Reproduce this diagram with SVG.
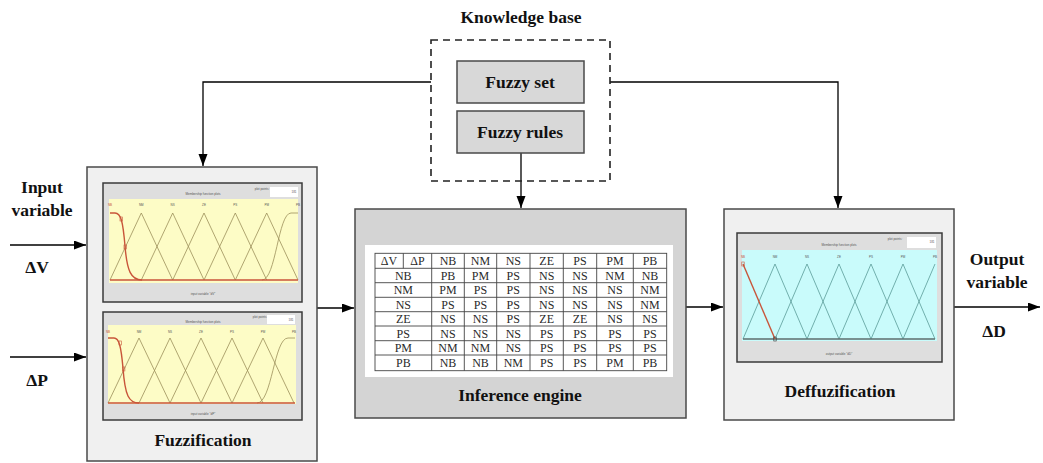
<svg xmlns="http://www.w3.org/2000/svg" width="1043" height="463" viewBox="0 0 1043 463">
  <defs>
    <marker id="arrow" markerUnits="userSpaceOnUse" markerWidth="13" markerHeight="10" refX="12" refY="4.5" orient="auto">
      <path d="M0,0 L12,4.5 L0,9 z" fill="#000"/>
    </marker>
    <style>
      .lbl { font-family: "Liberation Serif", "Times New Roman", serif; font-weight: bold; font-size: 17.5px; fill: #111; text-anchor: middle; }
      .cell { font-family: "Liberation Serif", "Times New Roman", serif; font-size: 12px; fill: #2a2a2a; text-anchor: middle; }
      .block { fill: #f0f0f0; stroke: #4a4a4a; stroke-width: 1.5; }
      .grayblock { fill: #d4d4d4; stroke: #4a4a4a; stroke-width: 1.5; }
      .kbitem { fill: #d8d8d8; stroke: #4a4a4a; stroke-width: 1.5; }
      .kb { fill: none; stroke: #222; stroke-width: 1.6; stroke-dasharray: 7 5; }
      .conn { fill: none; stroke: #000; stroke-width: 1.3; }
      .win { fill: #dedede; stroke: #3a3a3a; stroke-width: 1.5; }
      .tiny { font-family: "Liberation Sans", Arial, sans-serif; font-size: 3px; fill: #555; text-anchor: middle; }
      .mfy { fill: none; stroke: #9c8f5a; stroke-width: 0.8; }
      .mfc { fill: none; stroke: #5a9c98; stroke-width: 0.8; }
      .sel { fill: none; stroke: #c8553a; stroke-width: 1.4; }
      .tbl { fill: none; stroke: #444; stroke-width: 0.9; }
    </style>
  </defs>

  <!-- Connectors -->
  <g id="connectors">
    <path class="conn" d="M431,82 H203 V166" marker-end="url(#arrow)"/>
    <path class="conn" d="M610,82 H838 V208" marker-end="url(#arrow)"/>
    <path class="conn" d="M521,153 V208" marker-end="url(#arrow)"/>
    <path class="conn" d="M10,245 H86" marker-end="url(#arrow)"/>
    <path class="conn" d="M10,357 H86" marker-end="url(#arrow)"/>
    <path class="conn" d="M317,308 H354" marker-end="url(#arrow)"/>
    <path class="conn" d="M686,307 H723" marker-end="url(#arrow)"/>
    <path class="conn" d="M954,307 H1040" marker-end="url(#arrow)"/>
  </g>

  <!-- Input / output labels -->
  <g id="input-labels">
    <text class="lbl" x="42" y="193">Input</text>
    <text class="lbl" x="42" y="216">variable</text>
    <text class="lbl" x="37" y="273">ΔV</text>
    <text class="lbl" x="37" y="386">ΔP</text>
  </g>
  <g id="output-labels">
    <text class="lbl" x="997" y="265">Output</text>
    <text class="lbl" x="997" y="288">variable</text>
    <text class="lbl" x="994" y="337">ΔD</text>
  </g>

  <!-- Knowledge base -->
  <g id="knowledge-base">
    <text class="lbl" x="521" y="23">Knowledge base</text>
    <rect class="kb" x="431" y="40" width="179" height="141"/>
  </g>
  <g id="fuzzy-set">
    <rect class="kbitem" x="457" y="61" width="127" height="42"/>
    <text class="lbl" x="520" y="88">Fuzzy set</text>
  </g>
  <g id="fuzzy-rules">
    <rect class="kbitem" x="457" y="111" width="127" height="42"/>
    <text class="lbl" x="520" y="138">Fuzzy rules</text>
  </g>

  <!-- Fuzzification block with two membership-function plots -->
  <g id="fuzzification">
    <rect class="block" x="87" y="167" width="230" height="294"/>
    <text class="lbl" x="203" y="446">Fuzzification</text>

    <!-- plot for dV -->
    <rect class="win" x="103" y="183" width="199" height="119"/>
    <text class="tiny" x="203" y="195">Membership function plots</text>
    <text class="tiny" x="262" y="190">plot points:</text>
    <rect x="270" y="187" width="28" height="10" fill="#fff"/>
    <text class="tiny" x="294" y="193">181</text>
    <rect x="109" y="199" width="189" height="84" fill="#fdfcc6"/>
    <g class="tiny">
      <text x="110" y="206" fill="#c8553a">NB</text><text x="141.3" y="206">NM</text><text x="172.7" y="206">NS</text><text x="204" y="206">ZE</text><text x="235.3" y="206">PS</text><text x="266.7" y="206">PM</text><text x="298" y="206">PB</text>
    </g>
    <path class="mfy" d="M110,280 L141.3,213 L172.7,280 M141.3,280 L172.7,213 L204,280 M172.7,280 L204,213 L235.3,280 M204,280 L235.3,213 L266.7,280 M235.3,280 L266.7,213 L298,280"/>
    <path class="mfy" d="M262,280 C276,280 278,213 291,213 H298" stroke-width="1.2"/>
    <path class="sel" d="M110,280 H298"/>
    <path class="sel" d="M110,213 H115 C121,213 123,222 125,246 C127,271 131,280 142,280"/>
    <rect x="120" y="217" width="2.4" height="4" fill="none" stroke="#c8553a" stroke-width="0.6"/>
    <rect x="124" y="245" width="2.4" height="4" fill="none" stroke="#c8553a" stroke-width="0.6"/>
    <text class="tiny" x="203" y="295">input variable "dV"</text>

    <!-- plot for dP -->
    <rect class="win" x="103" y="312" width="199" height="108"/>
    <text class="tiny" x="203" y="323">Membership function plots</text>
    <text class="tiny" x="260" y="318">plot points:</text>
    <rect x="267" y="315" width="28" height="9" fill="#fff"/>
    <text class="tiny" x="291" y="321">181</text>
    <rect x="108" y="325" width="188" height="79" fill="#fdfcc6"/>
    <g class="tiny">
      <text x="108" y="333" fill="#c8553a">NB</text><text x="139" y="333">NM</text><text x="170" y="333">NS</text><text x="201" y="333">ZE</text><text x="232" y="333">PS</text><text x="263" y="333">PM</text><text x="294" y="333">PB</text>
    </g>
    <path class="mfy" d="M108,403 L139,338 L170,403 M139,403 L170,338 L201,403 M170,403 L201,338 L232,403 M201,403 L232,338 L263,403 M232,403 L263,338 L294,403"/>
    <path class="mfy" d="M257,403 C272,403 274,338 288,338 H295" stroke-width="1.2"/>
    <path class="sel" d="M108,403 H295"/>
    <path class="sel" d="M108,338 H114 C119,338 121,346 123,368 C125,396 129,403 139,403"/>
    <rect x="119" y="341" width="2.4" height="4" fill="none" stroke="#c8553a" stroke-width="0.6"/>
    <rect x="122.5" y="367" width="2.4" height="4" fill="none" stroke="#c8553a" stroke-width="0.6"/>
    <text class="tiny" x="203" y="415">input variable "dP"</text>
  </g>

  <!-- Inference engine with rule table -->
  <g id="inference-engine">
    <rect class="grayblock" x="355" y="209" width="331" height="209"/>
    <rect x="365" y="245" width="308" height="132" fill="#fff"/>
    <text class="lbl" x="520" y="401">Inference engine</text>
    <g class="tbl">
      <rect x="375" y="253.3" width="291.7" height="117.4"/>
      <path d="M375,268.3 H666.7 M375,282.7 H666.7 M375,297.3 H666.7 M375,311.7 H666.7 M375,326 H666.7 M375,340.7 H666.7 M375,355 H666.7"/>
      <path d="M403.3,253.3 V268.3 M431.7,253.3 V370.7 M464.3,253.3 V370.7 M496.7,253.3 V370.7 M530,253.3 V370.7 M563.3,253.3 V370.7 M596.7,253.3 V370.7 M633.3,253.3 V370.7"/>
    </g>
    <g class="cell">
      <text x="389" y="265">ΔV</text><text x="417.5" y="265">ΔP</text>
      <text x="448" y="265">NB</text><text x="480.5" y="265">NM</text><text x="513.3" y="265">NS</text><text x="546.7" y="265">ZE</text><text x="580" y="265">PS</text><text x="615" y="265">PM</text><text x="650" y="265">PB</text>

      <text x="403.3" y="279.5">NB</text><text x="448" y="279.5">PB</text><text x="480.5" y="279.5">PM</text><text x="513.3" y="279.5">PS</text><text x="546.7" y="279.5">NS</text><text x="580" y="279.5">NS</text><text x="615" y="279.5">NM</text><text x="650" y="279.5">NB</text>

      <text x="403.3" y="294">NM</text><text x="448" y="294">PM</text><text x="480.5" y="294">PS</text><text x="513.3" y="294">PS</text><text x="546.7" y="294">NS</text><text x="580" y="294">NS</text><text x="615" y="294">NS</text><text x="650" y="294">NM</text>

      <text x="403.3" y="308.5">NS</text><text x="448" y="308.5">PS</text><text x="480.5" y="308.5">PS</text><text x="513.3" y="308.5">PS</text><text x="546.7" y="308.5">NS</text><text x="580" y="308.5">NS</text><text x="615" y="308.5">NS</text><text x="650" y="308.5">NM</text>

      <text x="403.3" y="323">ZE</text><text x="448" y="323">NS</text><text x="480.5" y="323">NS</text><text x="513.3" y="323">PS</text><text x="546.7" y="323">ZE</text><text x="580" y="323">ZE</text><text x="615" y="323">NS</text><text x="650" y="323">NS</text>

      <text x="403.3" y="337.5">PS</text><text x="448" y="337.5">NS</text><text x="480.5" y="337.5">NS</text><text x="513.3" y="337.5">NS</text><text x="546.7" y="337.5">PS</text><text x="580" y="337.5">PS</text><text x="615" y="337.5">PS</text><text x="650" y="337.5">PS</text>

      <text x="403.3" y="352">PM</text><text x="448" y="352">NM</text><text x="480.5" y="352">NM</text><text x="513.3" y="352">NS</text><text x="546.7" y="352">PS</text><text x="580" y="352">PS</text><text x="615" y="352">PS</text><text x="650" y="352">PS</text>

      <text x="403.3" y="367">PB</text><text x="448" y="367">NB</text><text x="480.5" y="367">NB</text><text x="513.3" y="367">NM</text><text x="546.7" y="367">PS</text><text x="580" y="367">PS</text><text x="615" y="367">PM</text><text x="650" y="367">PB</text>
    </g>
  </g>

  <!-- Defuzzification block with output membership-function plot -->
  <g id="defuzzification">
    <rect class="block" x="724" y="209" width="230" height="211"/>
    <text class="lbl" x="840" y="397">Deffuzification</text>
    <rect class="win" x="737" y="233" width="205" height="129"/>
    <text class="tiny" x="839" y="246">Membership function plots</text>
    <text class="tiny" x="895" y="240">plot points:</text>
    <rect x="907" y="237" width="29" height="11" fill="#fff"/>
    <text class="tiny" x="932" y="243">181</text>
    <rect x="742" y="250" width="195" height="91" fill="#c9fbfb"/>
    <g class="tiny">
      <text x="743" y="258" fill="#c8553a">NB</text><text x="775" y="258">NM</text><text x="807" y="258">NS</text><text x="839" y="258">ZE</text><text x="871" y="258">PS</text><text x="903" y="258">PM</text><text x="935" y="258">PB</text>
    </g>
    <path class="mfc" d="M743,339 L775,264 L807,339 M775,339 L807,264 L839,339 M807,339 L839,264 L871,339 M839,339 L871,264 L903,339 M871,339 L903,264 L935,339 M903,339 L935,264"/>
    <path d="M743,339 H935" fill="none" stroke="#5c6e6e" stroke-width="1.4"/>
    <path class="sel" d="M743,264 L775,339" stroke-width="1"/>
    <rect x="741.8" y="262" width="2.4" height="4" fill="none" stroke="#c8553a" stroke-width="0.6"/>
    <rect x="773.8" y="337" width="2.4" height="4" fill="none" stroke="#333" stroke-width="0.6"/>
    <text class="tiny" x="839" y="355">output variable "dD"</text>
  </g>
</svg>
